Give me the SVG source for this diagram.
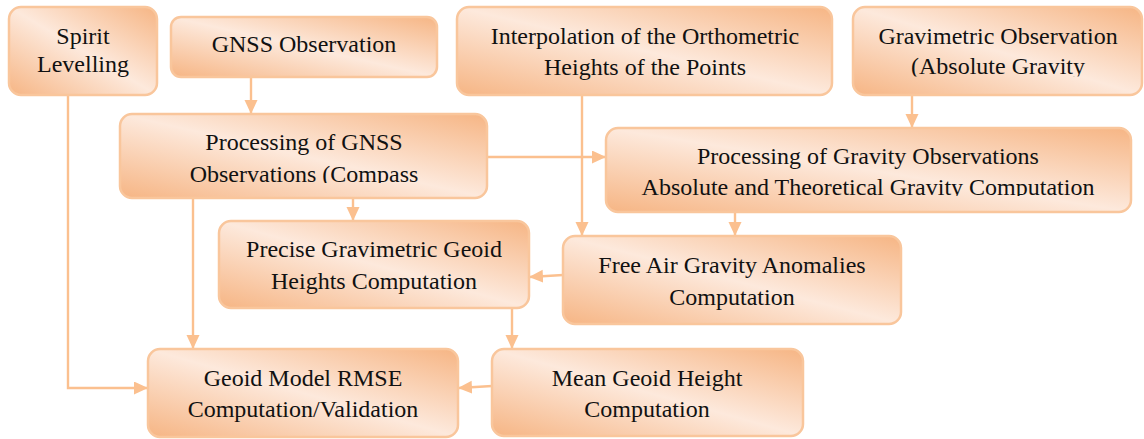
<svg xmlns="http://www.w3.org/2000/svg" width="1144" height="439" viewBox="0 0 1144 439">
<style>
.box{fill:url(#g);stroke:#f9c69c;stroke-width:2.5}
.t{font-family:'Liberation Serif',serif;font-size:24px;fill:#111;text-anchor:middle}
.c{fill:none;stroke:#fbc08f;stroke-width:2.4}
</style>
<defs>
<linearGradient id="g" x1="0" y1="1" x2="1" y2="0">
<stop offset="0" stop-color="#f6b584"/>
<stop offset="0.5" stop-color="#fde9dc"/>
<stop offset="1" stop-color="#f6b584"/>
</linearGradient>
<marker id="a" markerWidth="14" markerHeight="14" refX="13" refY="6.5" orient="auto" markerUnits="userSpaceOnUse">
<path d="M0,0 L14,6.5 L0,13 Z" fill="#fbc08f"/>
</marker>
<clipPath id="c1"><rect x="120" y="100" width="370" height="83"/></clipPath>
<clipPath id="c2"><rect x="600" y="120" width="540" height="76"/></clipPath>
<clipPath id="c3"><rect x="850" y="0" width="294" height="76.5"/></clipPath>
</defs>
<g id="connectors">
<polyline class="c" points="68,95 68,388 147,388" marker-end="url(#a)"/>
<line class="c" x1="251" y1="77" x2="251" y2="113" marker-end="url(#a)"/>
<line class="c" x1="487" y1="157" x2="605" y2="157" marker-end="url(#a)"/>
<line class="c" x1="353" y1="198" x2="353" y2="220" marker-end="url(#a)"/>
<line class="c" x1="193" y1="198" x2="193" y2="348" marker-end="url(#a)"/>
<line class="c" x1="582" y1="95" x2="582" y2="235" marker-end="url(#a)"/>
<line class="c" x1="912" y1="95" x2="912" y2="127" marker-end="url(#a)"/>
<line class="c" x1="735" y1="212" x2="735" y2="235" marker-end="url(#a)"/>
<line class="c" x1="563" y1="275" x2="530" y2="277" marker-end="url(#a)"/>
<line class="c" x1="512" y1="308" x2="512" y2="348" marker-end="url(#a)"/>
<line class="c" x1="492" y1="386" x2="459" y2="388" marker-end="url(#a)"/>
</g>
<g id="spirit">
<rect class="box" x="9" y="7" width="148" height="88" rx="12"/>
<text class="t" font-family="Liberation Serif" x="83" y="44">Spirit</text>
<text class="t" font-family="Liberation Serif" x="83" y="72">Levelling</text>
</g>
<g id="gnss-obs">
<rect class="box" x="171" y="17" width="266" height="60" rx="10"/>
<text class="t" x="304" y="52">GNSS Observation</text>
</g>
<g id="interp">
<rect class="box" x="457" y="7" width="375" height="88" rx="12"/>
<text class="t" x="645" y="44">Interpolation of the Orthometric</text>
<text class="t" x="645" y="75">Heights of the Points</text>
</g>
<g id="grav-obs">
<rect class="box" x="853" y="7" width="289" height="88" rx="12"/>
<g clip-path="url(#c3)">
<text class="t" x="998" y="44">Gravimetric Observation</text>
<text class="t" x="998" y="74">(Absolute Gravity</text>
</g>
</g>
<g id="proc-gnss">
<rect class="box" x="120" y="114" width="367" height="84" rx="12"/>
<g clip-path="url(#c1)">
<text class="t" x="304" y="150">Processing of GNSS</text>
<text class="t" x="304" y="182">Observations (Compass</text>
</g>
</g>
<g id="proc-grav">
<rect class="box" x="606" y="128" width="525" height="84" rx="12"/>
<g clip-path="url(#c2)">
<text class="t" x="868" y="164">Processing of Gravity Observations</text>
<text class="t" x="868" y="195">Absolute and Theoretical Gravity Computation</text>
</g>
</g>
<g id="precise">
<rect class="box" x="219" y="221" width="310" height="87" rx="12"/>
<text class="t" x="374" y="257">Precise Gravimetric Geoid</text>
<text class="t" x="374" y="289">Heights Computation</text>
</g>
<g id="free-air">
<rect class="box" x="563" y="236" width="338" height="88" rx="12"/>
<text class="t" x="732" y="273">Free Air Gravity Anomalies</text>
<text class="t" x="732" y="305">Computation</text>
</g>
<g id="rmse">
<rect class="box" x="148" y="349" width="310" height="88" rx="12"/>
<text class="t" x="303" y="386">Geoid Model RMSE</text>
<text class="t" x="303" y="417">Computation/Validation</text>
</g>
<g id="mean">
<rect class="box" x="492" y="349" width="311" height="87" rx="12"/>
<text class="t" x="647" y="386">Mean Geoid Height</text>
<text class="t" x="647" y="417">Computation</text>
</g>
</svg>
